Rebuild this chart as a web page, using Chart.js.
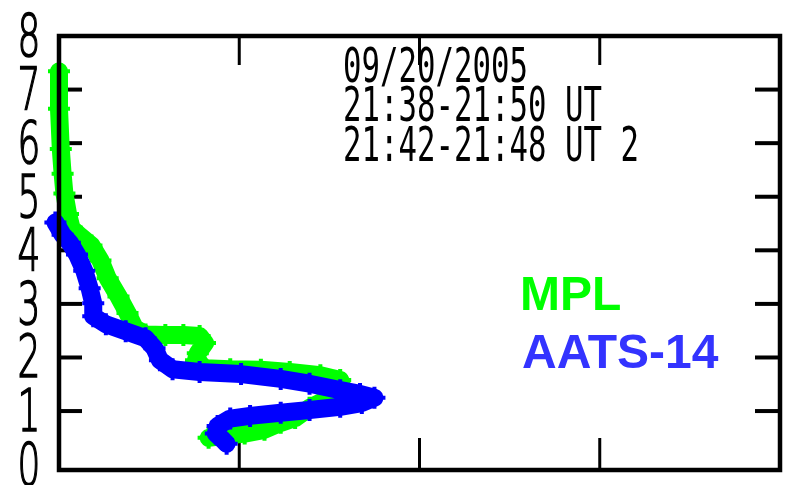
<!DOCTYPE html>
<html><head><meta charset="utf-8">
<script src="https://cdn.jsdelivr.net/npm/chart.js@4.4.0/dist/chart.umd.min.js"></script>
<style>html,body{margin:0;padding:0;background:#fff;}#wrap{width:811px;height:485px;}</style>
</head><body><div id="wrap"><canvas id="c" width="811" height="485"></canvas></div>
<script>
// MPL series (x, altitude)
const mplX = [0.000,0.000,0.001,0.002,0.003,0.005,0.007,0.012,0.018,0.023,0.027,0.033,0.038,0.042,0.048,0.059,0.069,0.078,0.081,0.077,0.076,0.081,0.095,0.112,0.128,0.145,0.156,0.158,0.148,0.139,0.131,0.123,0.114,0.103,0.092,0.083];
const mplY = [7.34,6.64,5.89,5.43,5.06,4.68,4.41,4.26,4.09,3.81,3.48,3.14,2.83,2.55,2.43,2.42,2.42,2.40,2.27,2.08,1.95,1.80,1.78,1.77,1.73,1.67,1.58,1.36,1.21,1.06,0.87,0.78,0.65,0.58,0.54,0.50];
// AATS-14 series
const aatsX = [-0.002,0.002,0.006,0.010,0.014,0.017,0.019,0.019,0.026,0.037,0.048,0.053,0.056,0.063,0.078,0.101,0.123,0.139,0.156,0.167,0.175,0.168,0.156,0.139,0.123,0.106,0.095,0.088,0.087,0.091,0.093];
const aatsY = [4.52,4.29,4.14,3.92,3.62,3.29,3.01,2.77,2.62,2.49,2.36,2.17,1.95,1.78,1.73,1.69,1.60,1.51,1.39,1.32,1.25,1.15,1.08,1.02,0.97,0.91,0.86,0.72,0.58,0.46,0.39];

const yTicks = [0,1,2,3,4,5,6,7,8];
const yTickLabels = ["0","1","2","3","4","5","6","7","8"];
const xTicks = [0.1,0.2,0.3];
const annotationLines = ["09/20/2005","21:38-21:50 UT","21:42-21:48 UT 2"];
const seriesNames = ["MPL","AATS-14"];
const seriesColors = ["#00ff00","#0000ff"];
const legendColors = ["#00ff00","#3333ff"];

const toPts = (xs, ys) => xs.map((v,i)=>({x:v, y:ys[i]}));

const framePlugin = {
  id:'frame',
  beforeDatasetsDraw(chart){
    const {ctx, chartArea:a, scales:{x,y}} = chart;
    ctx.save();
    ctx.strokeStyle='#000'; ctx.lineCap='butt';
    const ln=(x1,y1,x2,y2)=>{ctx.beginPath();ctx.moveTo(x1,y1);ctx.lineTo(x2,y2);ctx.stroke();};
    ctx.lineWidth=4;
    yTicks.forEach(v=>{
      if(v<=0||v>=8) return;
      const py=y.getPixelForValue(v);
      ln(a.left,py,a.left+23,py);
      ln(a.right-25,py,a.right,py);
    });
    ctx.lineWidth=3;
    xTicks.forEach(v=>{
      const px=x.getPixelForValue(v);
      ln(px,a.top,px,a.top+29);
      ln(px,a.bottom-32,px,a.bottom);
    });
    ctx.restore();
  },
  afterDatasetsDraw(chart){
    const {ctx, chartArea:a} = chart;
    ctx.save();
    ctx.strokeStyle='#000'; ctx.lineWidth=4.5;
    ctx.strokeRect(a.left,a.top,a.right-a.left,a.bottom-a.top);
    ctx.restore();
  },
  afterDraw(chart){
    const {ctx, scales:{y}} = chart;
    ctx.save();
    ctx.fillStyle='#000'; ctx.strokeStyle='#000';
    ctx.font='200 58px "DejaVu Sans"';
    ctx.textAlign='center'; ctx.textBaseline='alphabetic';
    ctx.lineWidth=1.6; ctx.lineJoin='miter';
    yTicks.forEach((v,i)=>{
      const py=y.getPixelForValue(v);
      ctx.save(); ctx.translate(29,py+20); ctx.scale(0.62,1);
      ctx.fillText(yTickLabels[i],0,0);
      ctx.strokeText(yTickLabels[i],0,0);
      ctx.restore();
    });
    ctx.font='48px "DejaVu Sans Mono"';
    ctx.textAlign='left';
    const bases=[82,121,161];
    annotationLines.forEach((t,i)=>{
      ctx.save(); ctx.translate(343,bases[i]); ctx.scale(0.64,1);
      ctx.fillText(t,0,0); ctx.restore();
    });
    ctx.font='bold 48px "Liberation Sans"';
    ctx.fillStyle=legendColors[0]; ctx.fillText(seriesNames[0],520,310);
    ctx.fillStyle=legendColors[1]; ctx.fillText(seriesNames[1],522,368);
    ctx.restore();
  }
};

const mk=(name,xs,ys,color,order)=>({
  label:name, data:toPts(xs,ys), showLine:true, order:order, clip:false,
  borderColor:color, backgroundColor:color, borderWidth:18,
  borderJoinStyle:'round', borderCapStyle:'round',
  pointStyle:'cross', pointRadius:11, pointBorderWidth:4, pointBorderColor:color, pointHoverRadius:11
});

new Chart(document.getElementById('c'),{
  type:'scatter',
  data:{datasets:[
    mk(seriesNames[1],aatsX,aatsY,seriesColors[1],0),
    mk(seriesNames[0],mplX,mplY,seriesColors[0],1)
  ]},
  options:{
    responsive:false, animation:false, devicePixelRatio:1,
    layout:{padding:{left:59,right:31,top:36,bottom:12}},
    scales:{
      x:{type:'linear',min:0,max:0.4,display:false},
      y:{type:'linear',min:-0.1,max:8,display:false}
    },
    plugins:{legend:{display:false},tooltip:{enabled:false}}
  },
  plugins:[framePlugin]
});
</script></body></html>
